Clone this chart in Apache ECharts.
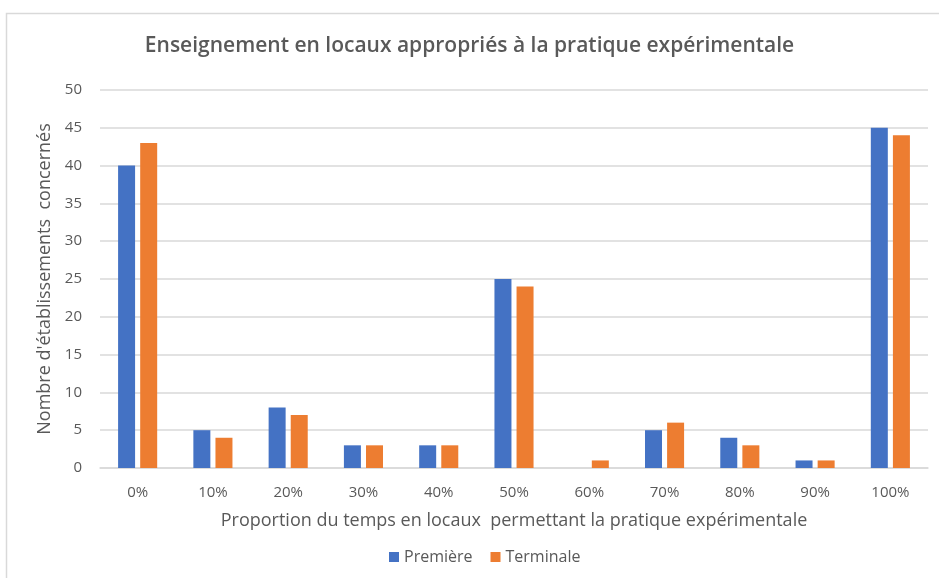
<!DOCTYPE html>
<html>
<head>
<meta charset="utf-8">
<script src="https://cdn.jsdelivr.net/npm/echarts@6/dist/echarts.min.js"></script>
<style>
  html, body { margin: 0; padding: 0; background: #fff; }
  #chart { width: 939px; height: 578px; }
</style>
</head>
<body>
<div id="chart"></div>
<script>
var categories = ['0%', '10%', '20%', '30%', '40%', '50%', '60%', '70%', '80%', '90%', '100%'];
var premiere = [40, 5, 8, 3, 3, 25, 0, 5, 4, 1, 45];
var terminale = [43, 4, 7, 3, 3, 24, 1, 6, 3, 1, 44];

var chart = echarts.init(document.getElementById('chart'));
var option = {
    animation: false,
    textStyle: { fontFamily: 'Open Sans' },
    graphic: [{
        type: 'rect',
        shape: { x: 6.5, y: 13.5, width: 960, height: 600 },
        style: { fill: 'none', stroke: '#d9d9d9', lineWidth: 1.5 },
        silent: true
    }],
    title: {
        text: 'Enseignement en locaux appropriés à la pratique expérimentale',
        left: 'center',
        top: 31,
        textStyle: { fontFamily: 'Open Sans', fontSize: 21, fontWeight: 600, color: '#595959' }
    },
    legend: {
        bottom: 8,
        left: 384,
        itemWidth: 10,
        itemHeight: 10,
        itemGap: 18,
        icon: 'rect',
        textStyle: { fontSize: 16, color: '#595959' },
        data: ['Première', 'Terminale']
    },
    grid: { left: 100, right: 11, top: 90, bottom: 110 },
    xAxis: {
        type: 'category',
        data: categories,
        name: 'Proportion du temps en locaux  permettant la pratique expérimentale',
        nameLocation: 'middle',
        nameGap: 44,
        nameTextStyle: { fontSize: 18, color: '#595959' },
        axisLine: { lineStyle: { color: '#d9d9d9', width: 1.5 } },
        axisTick: { show: false },
        axisLabel: { fontSize: 15, color: '#595959', margin: 17 }
    },
    yAxis: {
        type: 'value',
        min: 0,
        max: 50,
        interval: 5,
        name: "Nombre d'établissements  concernés",
        nameLocation: 'middle',
        nameGap: 45,
        nameTextStyle: { fontSize: 18, color: '#595959' },
        axisLine: { show: false },
        axisTick: { show: false },
        axisLabel: { fontSize: 15, color: '#595959', margin: 18 },
        splitLine: { lineStyle: { color: '#d9d9d9', width: 1.5 } }
    },
    series: [
        {
            name: 'Première',
            type: 'bar',
            data: premiere,
            barWidth: 17,
            barGap: '30%',
            itemStyle: { color: '#4472c4' }
        },
        {
            name: 'Terminale',
            type: 'bar',
            data: terminale,
            barWidth: 17,
            itemStyle: { color: '#ed7d31' }
        }
    ]
};
chart.setOption(option);
</script>
</body>
</html>
